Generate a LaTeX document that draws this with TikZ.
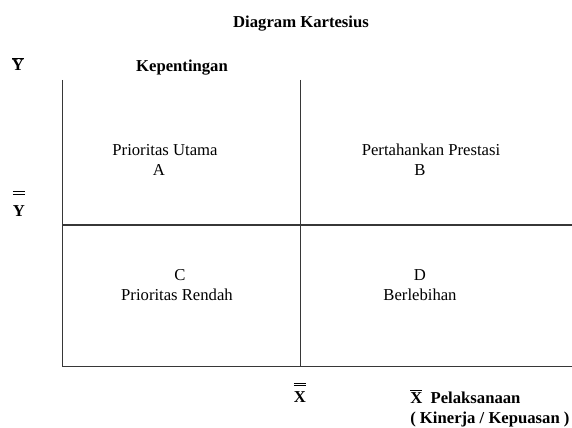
\documentclass[tikz,border=0pt]{standalone}
\usepackage{fontspec}
\setmainfont{Liberation Serif}

\definecolor{axisgray}{RGB}{55,55,55}

\begin{document}
\begin{tikzpicture}[
x=0.75pt, y=-0.75pt,
every node/.style={
align=center,
inner sep=0pt,
font=\fontsize{12.5}{15}\selectfont
},
axis/.style={draw=axisgray, line width=0.9pt}
]

% =====================================================
% Styles
% =====================================================

\tikzstyle{heading} =
[font=\fontsize{12.5}{15}\selectfont\bfseries, anchor=base]

\tikzstyle{quadrant} =
[text=black]

\useasboundingbox (0,0) rectangle (572,428);

% =====================================================
% Frame
% =====================================================

\coordinate (topleft) at (62.5,80);
\coordinate (topmid) at (300.5,80);
\coordinate (origin) at (62.5,366.5);
\coordinate (botmid) at (300.5,366.5);
\coordinate (botright) at (572,366.5);
\coordinate (midleft) at (62.5,225);
\coordinate (midright) at (572,225);

\draw [axis] (topleft) -- (origin) -- (botright);
\draw [axis] (topmid) -- (botmid);
\draw [axis] (midleft) -- (midright);

% =====================================================
% Labels
% =====================================================

\node (title) [heading] at (301,28)
{Diagram Kartesius};

\node (ybar) [heading] at (18,71)
{$\overline{\mbox{Y}}$};

\node (kepentingan) [heading] at (182,72)
{Kepentingan};

\node (ymean) [heading] at (19,216)
{$\overline{\overline{\mbox{Y}\rule{0pt}{15pt}}}$};

\node (xmean) [heading] at (300,402)
{$\overline{\overline{\mbox{X}\rule{0pt}{11pt}}}$};

\node (pelaksanaan) [heading, anchor=base west] at (410,403)
{$\overline{\mbox{X}}$\ \ Pelaksanaan};

\node (kinerja) [heading, anchor=base west] at (410,423)
{( Kinerja / Kepuasan )};

% =====================================================
% Quadrants
% =====================================================

\node (utama) [quadrant] at (165,150)
{Prioritas Utama};
\node (quadA) [quadrant] at (159,170)
{A};

\node (prestasi) [quadrant] at (431,150)
{Pertahankan Prestasi};
\node (quadB) [quadrant] at (420,170)
{B};

\node (quadC) [quadrant] at (180,275)
{C};
\node (rendah) [quadrant] at (177,295)
{Prioritas Rendah};

\node (quadD) [quadrant] at (420,275)
{D};
\node (lebih) [quadrant] at (420,295)
{Berlebihan};

\end{tikzpicture}
\end{document}
